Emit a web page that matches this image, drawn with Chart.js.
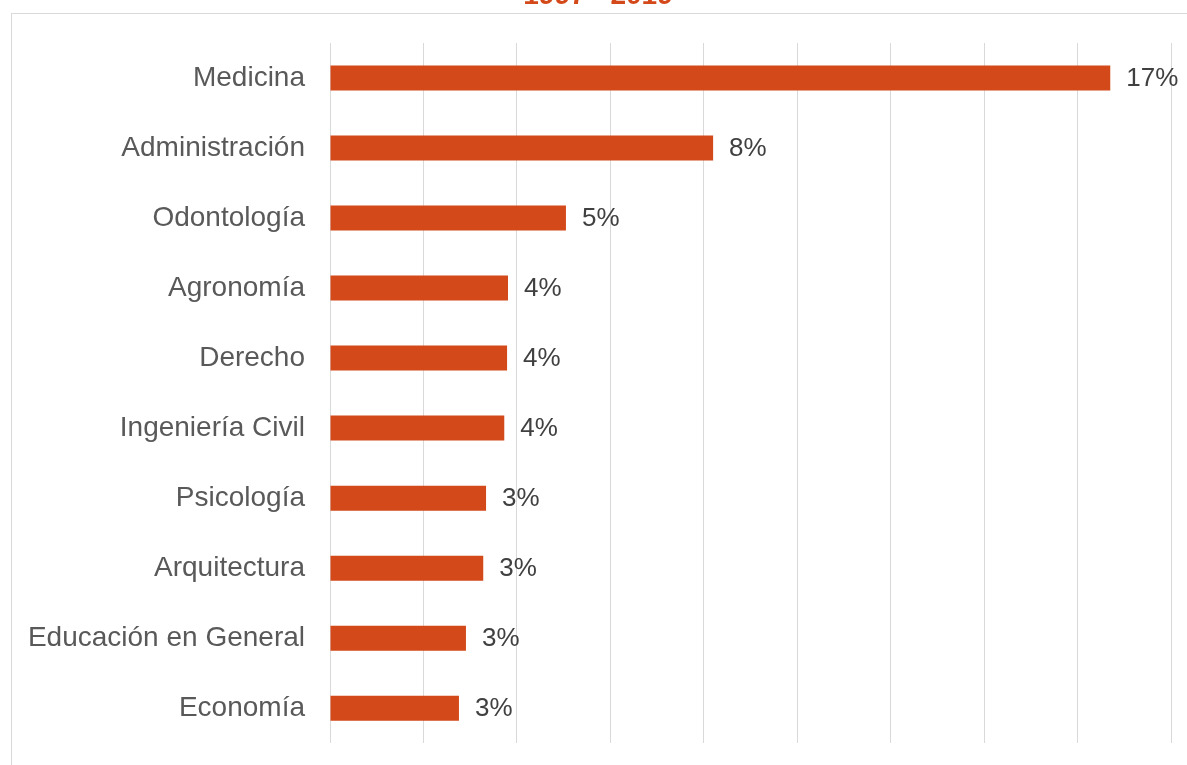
<!DOCTYPE html>
<html>
<head>
<meta charset="utf-8">
<script src="https://cdn.jsdelivr.net/npm/chart.js@4/dist/chart.umd.min.js"></script>
<style>
  html, body { margin: 0; padding: 0; background: #ffffff; overflow: hidden; }
  #page { position: relative; width: 1187px; height: 765px; overflow: hidden; }
  #frame { position: absolute; left: 11px; top: 13px; width: 1300px; height: 900px;
           border-top: 1px solid #D9D9D9; border-left: 1px solid #D9D9D9; box-sizing: border-box; }
  #wrap { position: absolute; left: 0; top: -40px; width: 1187px; height: 825px; }
</style>
</head>
<body>
<div id="page">
  <div id="frame"></div>
  <div id="wrap"><canvas id="c"></canvas></div>
</div>
<script>
const titleText = '1997 - 2019';
const categories = ['Medicina', 'Administración', 'Odontología', 'Agronomía', 'Derecho',
  'Ingeniería Civil', 'Psicología', 'Arquitectura', 'Educación en General', 'Economía'];
const shares = [16.7, 8.2, 5.05, 3.81, 3.79, 3.73, 3.34, 3.28, 2.91, 2.76];
const valueLabels = ['17%', '8%', '5%', '4%', '4%', '4%', '3%', '3%', '3%', '3%'];
const axisMax = 18;
const axisStep = 2;

const barColor = '#D4491A';

const valueLabelPlugin = {
  id: 'valueLabels',
  afterDatasetsDraw(chart) {
    const ctx = chart.ctx;
    const meta = chart.getDatasetMeta(0);
    ctx.save();
    ctx.font = '26px "Liberation Sans", Arial, sans-serif';
    ctx.fillStyle = '#404040';
    ctx.textAlign = 'left';
    ctx.textBaseline = 'middle';
    meta.data.forEach((bar, i) => {
      ctx.fillText(valueLabels[i], bar.x + 16, bar.y + 1);
    });
    ctx.restore();
  }
};

Chart.defaults.font.family = '"Liberation Sans", Arial, sans-serif';

new Chart(document.getElementById('c'), {
  type: 'bar',
  data: {
    labels: categories,
    datasets: [{
      data: shares,
      backgroundColor: barColor,
      borderWidth: 0,
      categoryPercentage: 1,
      barPercentage: 0.357
    }]
  },
  options: {
    indexAxis: 'y',
    responsive: true,
    maintainAspectRatio: false,
    animation: false,
    layout: { padding: { left: 25, right: 16, top: 0, bottom: 2 } },
    plugins: {
      legend: { display: false },
      tooltip: { enabled: false },
      title: {
        display: true,
        text: titleText,
        color: barColor,
        font: { size: 28, weight: 'bold' },
        padding: { top: 19, bottom: 30.4 }
      }
    },
    scales: {
      x: {
        min: 0,
        max: axisMax,
        ticks: { display: false, stepSize: axisStep },
        grid: { color: '#D9D9D9', lineWidth: 1, drawTicks: false },
        border: { display: false }
      },
      y: {
        ticks: { color: '#595959', font: { size: 28 }, padding: 25 },
        grid: { display: false, drawTicks: false },
        border: { display: false },
        afterFit(scale) { scale.width = 305; }
      }
    }
  },
  plugins: [valueLabelPlugin]
});
</script>
</body>
</html>
